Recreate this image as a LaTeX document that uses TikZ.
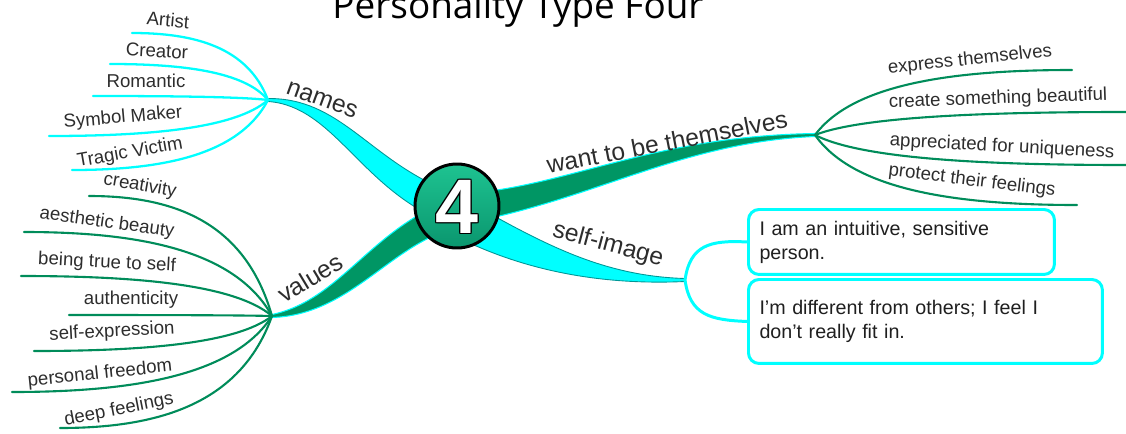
\documentclass[tikz,border=0pt]{standalone}
\usepackage{fontspec}
\setmainfont{Liberation Sans}
\newfontfamily\titlefont{Open Sans}
\usetikzlibrary{calc}
\definecolor{cy}{RGB}{0,255,255}
\definecolor{cyedge}{RGB}{0,150,150}
\definecolor{gr}{RGB}{0,150,100}
\definecolor{lg}{RGB}{0,140,90}
\definecolor{txt}{RGB}{45,45,45}
\newcommand\leafcurve[3]{\draw[#1] let \p1=(#2), \p2=(#3) in (\p1) .. controls (\x1+0.15*\x2-0.15*\x1, \y1+0.8*\y2-0.8*\y1) and (\x2+0.45*\x1-0.45*\x2, \y2) .. (\p2);}
\begin{document}
\begin{tikzpicture}[x=0.02cm,y=-0.02cm,
  leaf/.style={font=\fontsize{10.6}{12}\selectfont, text=txt, inner sep=0pt},
  blabel/.style={font=\fontsize{14}{16}\selectfont, text=txt, inner sep=0pt},
  cyline/.style={draw=cy, line width=1.3pt, line cap=round},
  grline/.style={draw=lg, line width=1.2pt, line cap=round},
  cyrib/.style={fill=cy, draw=cyedge, line width=0.5pt},
  grrib/.style={fill=gr, draw=cy, line width=0.6pt},
  digit/.style={font=\fontsize{44}{44}\bfseries\selectfont, inner sep=0pt},
  sbox/.style={draw=cy, line width=1.7pt, rounded corners=6pt, fill=white, align=left,
    font=\fontsize{11.2}{13.6}\selectfont, text=black!88, inner xsep=0.22cm, anchor=north west}]
\useasboundingbox (0,0) rectangle (1126,433);

% title
\node[font=\titlefont\fontsize{21}{24}\selectfont, text=black, anchor=base, inner sep=0pt] (title) at (518,18) {Personality Type Four};

% junctions
\coordinate (C0) at (457,206);
\coordinate (J1) at (268,100);
\coordinate (J2) at (272,316);
\coordinate (J3) at (815,135);
\coordinate (J4) at (685,280);

% ribbons
\path[cyrib] (J1) ++(0,-1.5) .. controls (340,98) and (368,158) .. (445,190) -- (450,224) .. controls (362,192) and (335,106) .. (268,101.5) -- cycle;
\path[cyrib] (460,197) .. controls (540,242) and (600,276) .. (685,278.5) -- (685,281.5) .. controls (610,285) and (530,274) .. (455,236) -- cycle;
\path[grrib] (460,194) .. controls (565,188) and (650,136) .. (815,133.5) -- (815,136.5) .. controls (680,142) and (590,202) .. (460,224) -- cycle;
\path[grrib] (272,314.5) .. controls (340,300) and (370,230) .. (450,200) -- (455,228) .. controls (390,245) and (350,315) .. (272,317.5) -- cycle;

% central node
\node[circle, minimum size=1.68cm, draw=black, line width=1.7pt, top color={rgb,255:red,30;green,195;blue,145}, middle color={rgb,255:red,110;green,232;blue,200}, bottom color={rgb,255:red,10;green,150;blue,110}, inner sep=0pt] (C) at (C0) {};
\foreach \dx/\dy [count=\i] in {1.4/0,-1.4/0,0/1.4,0/-1.4,1/1,1/-1,-1/1,-1/-1}
  \node[digit, text=black] (f\i) at ($(C0)+(\dx,\dy)+(0,1)$) {4};
\node[digit, text=white] (four) at ($(C0)+(0,1)$) {4};

% branch labels
\node[blabel, rotate=-20] (names) at (322,100) {names};
\node[blabel, rotate=31] (values) at (310,278) {values};
\node[blabel, rotate=11] (want) at (667,142) {want to be themselves};
\node[blabel, rotate=-15] (self) at (608,245) {self-image};

% names leaves
\coordinate (eA) at (132,33);
\coordinate (eB) at (110,64);
\coordinate (eC) at (93,96);
\coordinate (eD) at (49,136);
\coordinate (eE) at (72,170);
\foreach \e in {eA,eB,eC,eD,eE} {\leafcurve{cyline}{J1}{\e}}
\node[leaf, rotate=-5] (nA) at (168,20) {Artist};
\node[leaf, rotate=-3] (nB) at (157,51) {Creator};
\node[leaf] (nC) at (146,81) {Romantic};
\node[leaf, rotate=5] (nD) at (123,118) {Symbol Maker};
\node[leaf, rotate=10] (nE) at (130,153) {Tragic Victim};

% values leaves
\coordinate (v1) at (89,196);
\coordinate (v2) at (24,232);
\coordinate (v3) at (21,276);
\coordinate (v4) at (69,315);
\coordinate (v5) at (34,351);
\coordinate (v6) at (12,392);
\coordinate (v7) at (60,428);
\foreach \e in {v1,v2,v3,v4,v5,v6,v7} {\leafcurve{grline}{J2}{\e}}
\node[leaf, rotate=-10] (t1) at (140,186) {creativity};
\node[leaf, rotate=-8] (t2) at (107,223) {aesthetic beauty};
\node[leaf, rotate=-3] (t3) at (107,263) {being true to self};
\node[leaf] (t4) at (131,300) {authenticity};
\node[leaf, rotate=3] (t5) at (112,332) {self-expression};
\node[leaf, rotate=6] (t6) at (100,374) {personal freedom};
\node[leaf, rotate=11] (t7) at (119,410) {deep feelings};

% want leaves
\coordinate (w1) at (1072,70);
\coordinate (w2) at (1126,112);
\coordinate (w3) at (1126,165);
\coordinate (w4) at (1077,205);
\foreach \e in {w1,w2,w3,w4} {\leafcurve{grline}{J3}{\e}}
\node[leaf, rotate=6] (u1) at (970,60) {express themselves};
\node[leaf, rotate=2] (u2) at (998,99) {create something beautiful};
\node[leaf, rotate=-3] (u3) at (1002,147) {appreciated for uniqueness};
\node[leaf, rotate=-7] (u4) at (972,181) {protect their feelings};

% self-image boxes
\node[sbox, minimum width=6.12cm, minimum height=1.3cm, text width=5.68cm] (b1) at (747,208) {I am an intuitive, sensitive\\person.};
\node[sbox, minimum width=7.08cm, minimum height=1.68cm, text width=6.64cm] (b2) at (747,278) {I'm different from others; I feel I\\don't really fit in.};
\draw[cy, line width=1.7pt] (J4) .. controls (690,245) and (710,240) .. (b1.west);
\draw[cy, line width=1.7pt] (J4) .. controls (690,315) and (710,320) .. (b2.west);
\end{tikzpicture}
\end{document}
